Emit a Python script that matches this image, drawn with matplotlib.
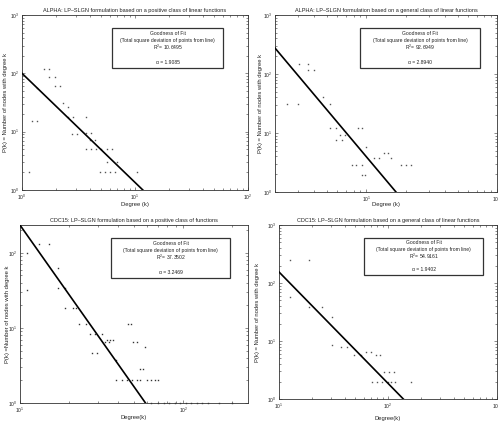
import matplotlib
matplotlib.use("Agg")
import matplotlib.pyplot as plt
import numpy as np
from matplotlib.patches import Rectangle

plt.rcParams['font.family'] = ['Liberation Sans', 'DejaVu Sans']
plt.rcParams['mathtext.fontset'] = 'custom'
plt.rcParams['mathtext.rm'] = 'Liberation Sans'

# ---------------- data ----------------
titles = [
    "ALPHA: LP\u2013SLGN formulation based on a positive class of linear functions",
    "ALPHA: LP\u2013SLGN formulation based on a general class of linear functions",
    "CDC15: LP\u2013SLGN formulation based on a positive class of functions",
    "CDC15: LP\u2013SLGN formulation based on a general class of linear functions",
]
xlabels = ["Degree (k)", "Degree (k)", "Degree(k)", "Degree(k)"]
ylabels = ["P(k) = Number of nodes with degree k",
           "P(k) = Number of nodes with degree k",
           "P(k) =Number of nodes with degree k",
           "P(k) = Number of nodes with degree k"]
r2_values = ["10.6495", "92.6949", "37.3502", "54.9161"]
alpha_values = ["1.9085", "2.8940", "3.2469", "1.9402"]

# degree / count points
k1 = [1.55, 1.75, 1.75, 1.96, 1.96, 2.17, 1.36, 1.22, 1.36, 2.3, 2.57, 2.57, 2.84, 3.7,
      2.75, 3.05, 3.7, 4.1, 4.0, 4.4, 3.7, 4.1, 4.5, 5.0, 5.6, 6.2, 5.6, 6.9,
      4.9, 5.4, 6.0, 6.7, 10.4, 1.16]
p1 = [118, 118, 88, 88, 61, 61, 57, 15.5, 15.5, 31, 27, 17.7, 17.7, 17.7,
      9.1, 9.1, 9.6, 9.6, 7.2, 7.2, 5, 5, 5, 5, 5, 5, 3, 3,
      2, 2, 2, 2, 2, 2]

k2 = [3.05, 3.6, 3.6, 4.0, 2.48, 3.0, 4.7, 5.25, 5.25, 5.9, 6.3, 6.9, 5.9, 6.5, 8.65,
      9.2, 10.0, 11.5, 12.6, 13.7, 14.7, 15.5, 7.7, 8.4, 9.2, 9.2, 9.7, 18.4, 20.0, 21.9]
p2 = [148, 148, 117, 117, 31, 31, 40, 31, 12, 12, 9.25, 9.25, 7.6, 7.6, 12,
      12, 5.7, 3.8, 3.8, 4.6, 4.6, 3.8, 2.9, 2.9, 2.9, 1.94, 1.94, 2.9, 2.9, 2.9]

k3 = [11, 13.1, 15.1, 11, 17, 17, 19, 19, 21, 22, 23, 25.5, 27.7, 29.7, 27,
      29, 31.7, 34, 35.6, 37.4, 33, 35, 46, 48, 49, 52, 58, 39, 54.5, 57,
      39, 42, 45, 48.5, 52, 54.5, 60, 64, 67, 70.6,
      64, 70, 76, 82, 89, 96, 104, 112, 121, 131, 142, 165, 200]
p3 = [100, 132, 132, 32, 63, 34, 34, 18.6, 18.6, 18.6, 11.3, 11.3, 4.6, 4.6, 8.3,
      8.3, 8.3, 7, 7, 7, 6.5, 6.5, 11.3, 11.3, 6.5, 6.5, 5.6, 3.7, 2.8, 2.8,
      2, 2, 2, 2, 2, 2, 2, 2, 2, 2,
      1, 1, 1, 1, 1, 1, 1, 1, 1, 1, 1, 1, 1]

k4 = [12.6, 18.7, 12.6, 18.7, 24.8, 30.8, 30.8, 36.7, 42.4, 48.7, 56, 62.5, 69.6,
      77.6, 85, 92.5, 103, 114, 72, 80, 89, 99, 107, 115, 162]
p4 = [250, 250, 57, 39, 39, 26, 8.5, 8, 8, 5.7, 5.7, 6.5, 6.5,
      5.7, 5.7, 2.9, 2.9, 2.9, 1.94, 1.94, 1.94, 1.94, 1.94, 1.94, 1.94]

degrees = [k1, k2, k3, k4]
counts = [p1, p2, p3, p4]

# fitted line (log10 P = log_c + slope * log10 k), as drawn
fit_log_c = [2.0, 3.233, 5.45, 4.11]
fit_slope = [-1.87, -2.635, -3.08, -1.92]

xlims = [(1, 100), (2, 100), (10, 250), (10, 1000)]
ylims = [(1, 1000), (1, 1000), (1, 235), (1, 1000)]

# ---------------- layout ----------------
W, H = 498, 423
axes_px = [(22, 15, 248, 190), (275, 15, 497, 192), (20, 225, 248, 403), (279, 225, 497, 399)]
boxes_px = [(112, 28, 223, 68), (360, 28, 480, 68), (111, 238, 230, 278), (364, 238, 483, 275)]
ylab_x = [-0.064, -0.056, -0.046, -0.085]
xlab_y = [-0.071, -0.054, -0.065, -0.095]
point_colors = ['#555555', '#555555', '#333333', '#555555']

fig = plt.figure(figsize=(W / 100, H / 100), dpi=100)
fig.patch.set_facecolor('white')
tc = '#222222'

for i in range(4):
    l, t, r, b = axes_px[i]
    ax = fig.add_axes([l / W, 1 - b / H, (r - l) / W, (b - t) / H])
    ax.set_xscale('log')
    ax.set_yscale('log')
    ax.set_xlim(*xlims[i])
    ax.set_ylim(*ylims[i])

    ax.plot(degrees[i], counts[i], 's', ms=1.0, mew=0, color=point_colors[i],
            clip_on=False, zorder=3)
    xs = np.logspace(np.log10(xlims[i][0]), np.log10(xlims[i][1]), 200)
    ys = 10 ** (fit_log_c[i] + fit_slope[i] * np.log10(xs))
    ax.plot(xs, ys, '-', color='black', lw=1.2, zorder=4)

    for s in ax.spines.values():
        s.set_linewidth(0.6)
        s.set_color('#333333')
    ax.tick_params(which='both', direction='in', top=True, right=True,
                   labelsize=3.5, colors='#333333', width=0.4)
    ax.tick_params(axis='x', pad=2.2)
    ax.tick_params(axis='y', pad=1.8)
    ax.tick_params(which='major', length=2.5)
    ax.tick_params(which='minor', length=1.3)
    for lab in ax.get_xticklabels() + ax.get_yticklabels():
        lab.set_color(tc)

    ax.set_title(titles[i], fontsize=4.0, color=tc, pad=2.5)
    ax.set_xlabel(xlabels[i], fontsize=4.2, color=tc)
    ax.set_ylabel(ylabels[i], fontsize=4.2, color=tc)
    ax.yaxis.set_label_coords(ylab_x[i], 0.5)
    ax.xaxis.set_label_coords(0.5, xlab_y[i])

    # goodness-of-fit box
    bl, bt, br, bb = boxes_px[i]
    x0 = (bl - l) / (r - l)
    x1 = (br - l) / (r - l)
    y1 = 1 - (bt - t) / (b - t)
    y0 = 1 - (bb - t) / (b - t)
    ax.add_patch(Rectangle((x0, y0), x1 - x0, y1 - y0, transform=ax.transAxes,
                           fc='white', ec='#333333', lw=0.9, zorder=5))
    lines = ["Goodness of Fit",
             "(Total square deviation of points from line)",
             "R$^2$= " + r2_values[i],
             "\u03b1 = " + alpha_values[i]]
    fracs = [0.13, 0.31, 0.49, 0.85]
    for f, s in zip(fracs, lines):
        ax.text((x0 + x1) / 2, y1 - f * (y1 - y0), s, transform=ax.transAxes,
                ha='center', va='center', fontsize=3.6, color=tc, zorder=6)

fig.savefig("out.png", dpi=100)
